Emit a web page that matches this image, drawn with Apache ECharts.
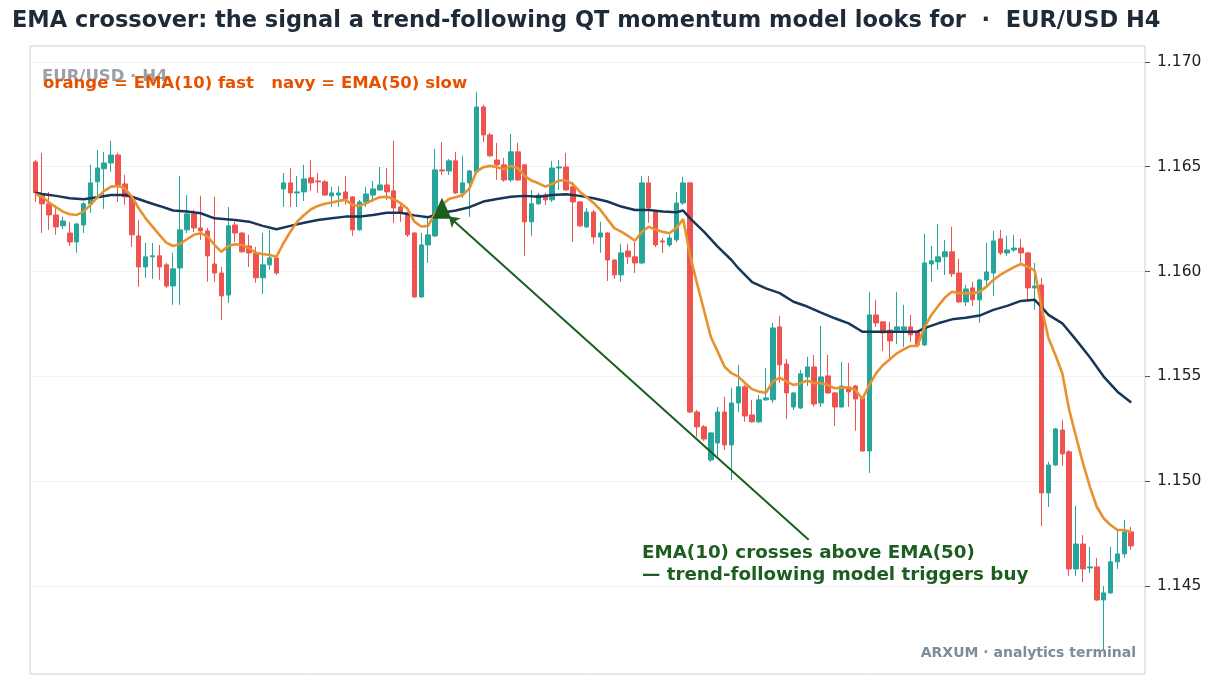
<!DOCTYPE html>
<html lang="en">
<head>
    <meta charset="UTF-8">
    <title>EMA crossover - EUR/USD H4</title>
    <script src="https://cdn.jsdelivr.net/npm/echarts@6/dist/echarts.min.js"></script>
    <style>
        html, body {margin: 0; padding: 0; background: #fff;}
        #chart {width: 1215px; height: 686px;}
    </style>
</head>
<body>
    <div id="chart"></div>
    <script type="text/javascript">
        // EUR/USD H4 candles (index 0..159)
        const opens = [
            1.16523, 1.16370, 1.16323, 1.16270, 1.16218, 1.16184, 1.16141, 1.16222, 1.16323, 1.16428,
            1.16490, 1.16518, 1.16556, 1.16418, 1.16356, 1.16170, 1.16022, 1.16070, 1.16075, 1.16032,
            1.15931, 1.16017, 1.16199, 1.16275, 1.16208, 1.16194, 1.16036, 1.15993, 1.15888, 1.16222,
            1.16184, 1.16122, 1.16089, 1.15970, 1.16032, 1.16065, 1.16394, 1.16423, 1.16375, 1.16380,
            1.16447, 1.16432, 1.16428, 1.16361, 1.16365, 1.16380, 1.16356, 1.16199, 1.16332, 1.16365,
            1.16389, 1.16413, 1.16385, 1.16308, 1.16280, 1.16184, 1.15879, 1.16127, 1.16170, 1.16485,
            1.16480, 1.16528, 1.16375, 1.16423, 1.16475, 1.16785, 1.16652, 1.16532, 1.16509, 1.16437,
            1.16571, 1.16509, 1.16237, 1.16323, 1.16365, 1.16342, 1.16494, 1.16499, 1.16404, 1.16332,
            1.16213, 1.16284, 1.16165, 1.16184, 1.16055, 1.15984, 1.16098, 1.16070, 1.16041, 1.16423,
            1.16284, 1.16146, 1.16127, 1.16151, 1.16327, 1.16423, 1.15330, 1.15259, 1.15101, 1.15182,
            1.15330, 1.15173, 1.15373, 1.15450, 1.15316, 1.15283, 1.15388, 1.15388, 1.15736, 1.15559,
            1.15354, 1.15349, 1.15497, 1.15545, 1.15373, 1.15502, 1.15421, 1.15354, 1.15450, 1.15454,
            1.15397, 1.15144, 1.15793, 1.15760, 1.15721, 1.15721, 1.15721, 1.15736, 1.15712, 1.15650,
            1.16036, 1.16046, 1.16070, 1.16094, 1.15993, 1.15855, 1.15922, 1.15865, 1.15960, 1.15993,
            1.16156, 1.16089, 1.16103, 1.16112, 1.16089, 1.15922, 1.15936, 1.14944, 1.15077, 1.15244,
            1.15140, 1.14581, 1.14700, 1.14586, 1.14591, 1.14433, 1.14467, 1.14615, 1.14653, 1.14758
        ];
        const closes = [
            1.16375, 1.16323, 1.16270, 1.16213, 1.16241, 1.16141, 1.16227, 1.16323, 1.16423, 1.16494,
            1.16518, 1.16556, 1.16413, 1.16356, 1.16175, 1.16022, 1.16070, 1.16075, 1.16022, 1.15931,
            1.16013, 1.16199, 1.16275, 1.16208, 1.16194, 1.16075, 1.15993, 1.15884, 1.16218, 1.16184,
            1.16094, 1.16089, 1.15970, 1.16032, 1.16065, 1.15993, 1.16423, 1.16375, 1.16380, 1.16442,
            1.16423, 1.16428, 1.16365, 1.16375, 1.16375, 1.16346, 1.16199, 1.16332, 1.16370, 1.16394,
            1.16413, 1.16380, 1.16303, 1.16280, 1.16175, 1.15879, 1.16127, 1.16175, 1.16485, 1.16480,
            1.16528, 1.16375, 1.16423, 1.16480, 1.16785, 1.16652, 1.16552, 1.16509, 1.16437, 1.16571,
            1.16437, 1.16237, 1.16323, 1.16365, 1.16342, 1.16494, 1.16499, 1.16389, 1.16332, 1.16218,
            1.16284, 1.16165, 1.16184, 1.16055, 1.15984, 1.16089, 1.16070, 1.16041, 1.16423, 1.16303,
            1.16127, 1.16141, 1.16160, 1.16327, 1.16423, 1.15330, 1.15259, 1.15201, 1.15230, 1.15330,
            1.15173, 1.15373, 1.15450, 1.15311, 1.15283, 1.15388, 1.15397, 1.15731, 1.15555, 1.15421,
            1.15421, 1.15512, 1.15545, 1.15368, 1.15497, 1.15421, 1.15354, 1.15454, 1.15426, 1.15392,
            1.15144, 1.15793, 1.15755, 1.15707, 1.15669, 1.15736, 1.15736, 1.15698, 1.15650, 1.16041,
            1.16051, 1.16070, 1.16094, 1.15989, 1.15855, 1.15917, 1.15865, 1.15960, 1.15998, 1.16146,
            1.16089, 1.16103, 1.16112, 1.16089, 1.15922, 1.15931, 1.14944, 1.15077, 1.15249, 1.15130,
            1.14581, 1.14700, 1.14581, 1.14591, 1.14433, 1.14467, 1.14615, 1.14653, 1.14758, 1.14691
        ];
        const lows = [
            1.16332, 1.16184, 1.16199, 1.16175, 1.16203, 1.16122, 1.16089, 1.16184, 1.16280, 1.16356,
            1.16299, 1.16475, 1.16332, 1.16318, 1.16117, 1.15927, 1.15970, 1.15965, 1.15960, 1.15922,
            1.15841, 1.15841, 1.16184, 1.16189, 1.16151, 1.15951, 1.15951, 1.15769, 1.15850, 1.16141,
            1.16090, 1.16022, 1.15946, 1.15893, 1.16008, 1.15984, 1.16308, 1.16308, 1.16308, 1.16337,
            1.16385, 1.16375, 1.16361, 1.16308, 1.16308, 1.16318, 1.16170, 1.16195, 1.16308, 1.16332,
            1.16385, 1.16342, 1.16232, 1.16237, 1.16165, 1.15875, 1.15874, 1.16041, 1.16165, 1.16461,
            1.16461, 1.16370, 1.16351, 1.16261, 1.16470, 1.16618, 1.16547, 1.16437, 1.16428, 1.16428,
            1.16432, 1.16075, 1.16170, 1.16318, 1.16318, 1.16332, 1.16389, 1.16385, 1.16141, 1.16213,
            1.16208, 1.16132, 1.16089, 1.15955, 1.15965, 1.15951, 1.16036, 1.15993, 1.16036, 1.16232,
            1.16117, 1.16089, 1.16117, 1.16141, 1.16318, 1.15325, 1.15211, 1.15192, 1.15092, 1.15116,
            1.15149, 1.15006, 1.15330, 1.15283, 1.15280, 1.15278, 1.15383, 1.15373, 1.15469, 1.15297,
            1.15340, 1.15345, 1.15454, 1.15354, 1.15354, 1.15416, 1.15264, 1.15350, 1.15354, 1.15240,
            1.15140, 1.15039, 1.15736, 1.15621, 1.15578, 1.15655, 1.15640, 1.15664, 1.15645, 1.15645,
            1.15951, 1.16008, 1.15984, 1.15974, 1.15850, 1.15836, 1.15836, 1.15755, 1.15931, 1.15884,
            1.16079, 1.16075, 1.16094, 1.16041, 1.15865, 1.15817, 1.14786, 1.14877, 1.15073, 1.15073,
            1.14548, 1.14548, 1.14519, 1.14562, 1.14429, 1.14195, 1.14462, 1.14581, 1.14634, 1.14672
        ];
        const highs = [
            1.16532, 1.16566, 1.16380, 1.16303, 1.16261, 1.16237, 1.16232, 1.16332, 1.16509, 1.16580,
            1.16571, 1.16623, 1.16566, 1.16461, 1.16365, 1.16246, 1.16137, 1.16137, 1.16127, 1.16041,
            1.16089, 1.16456, 1.16365, 1.16294, 1.16361, 1.16208, 1.16356, 1.16022, 1.16308, 1.16237,
            1.16188, 1.16175, 1.16117, 1.16184, 1.16199, 1.16070, 1.16470, 1.16494, 1.16456, 1.16509,
            1.16532, 1.16470, 1.16437, 1.16404, 1.16408, 1.16456, 1.16361, 1.16342, 1.16404, 1.16432,
            1.16499, 1.16494, 1.16623, 1.16327, 1.16284, 1.16188, 1.16184, 1.16261, 1.16585, 1.16618,
            1.16537, 1.16571, 1.16552, 1.16485, 1.16857, 1.16795, 1.16661, 1.16614, 1.16542, 1.16657,
            1.16614, 1.16513, 1.16389, 1.16375, 1.16375, 1.16528, 1.16532, 1.16566, 1.16428, 1.16337,
            1.16303, 1.16294, 1.16237, 1.16189, 1.16060, 1.16132, 1.16132, 1.16141, 1.16456, 1.16456,
            1.16289, 1.16160, 1.16175, 1.16380, 1.16451, 1.16428, 1.15340, 1.15268, 1.15235, 1.15354,
            1.15402, 1.15445, 1.15555, 1.15459, 1.15388, 1.15411, 1.15540, 1.15755, 1.15788, 1.15583,
            1.15425, 1.15531, 1.15593, 1.15602, 1.15741, 1.15602, 1.15425, 1.15569, 1.15564, 1.15459,
            1.15402, 1.15902, 1.15865, 1.15764, 1.15760, 1.15902, 1.15841, 1.15793, 1.15721, 1.16180,
            1.16122, 1.16227, 1.16151, 1.16213, 1.16060, 1.15936, 1.15951, 1.15965, 1.16137, 1.16194,
            1.16199, 1.16170, 1.16175, 1.16156, 1.16094, 1.16041, 1.15970, 1.15092, 1.15254, 1.15292,
            1.15149, 1.14882, 1.14743, 1.14686, 1.14634, 1.14500, 1.14686, 1.14763, 1.14815, 1.14782
        ];

        // EMA(10), one value per candle
        const emaFast = [
            1.16370, 1.16357, 1.16329, 1.16307, 1.16286, 1.16273, 1.16270, 1.16286, 1.16318, 1.16354,
            1.16385, 1.16405, 1.16408, 1.16397, 1.16357, 1.16302, 1.16254, 1.16214, 1.16175, 1.16138,
            1.16122, 1.16132, 1.16154, 1.16175, 1.16183, 1.16167, 1.16127, 1.16094, 1.16122, 1.16130,
            1.16127, 1.16111, 1.16090, 1.16084, 1.16079, 1.16071, 1.16135, 1.16190, 1.16238, 1.16270,
            1.16297, 1.16313, 1.16323, 1.16329, 1.16337, 1.16342, 1.16318, 1.16313, 1.16326, 1.16342,
            1.16354, 1.16357, 1.16346, 1.16326, 1.16299, 1.16238, 1.16215, 1.16218, 1.16278, 1.16318,
            1.16346, 1.16354, 1.16365, 1.16397, 1.16477, 1.16498, 1.16504, 1.16498, 1.16488, 1.16504,
            1.16493, 1.16456, 1.16434, 1.16421, 1.16405, 1.16418, 1.16434, 1.16434, 1.16417, 1.16381,
            1.16354, 1.16327, 1.16294, 1.16250, 1.16207, 1.16190, 1.16170, 1.16147, 1.16190, 1.16214,
            1.16199, 1.16190, 1.16183, 1.16207, 1.16250, 1.16077, 1.15944, 1.15817, 1.15689, 1.15618,
            1.15546, 1.15515, 1.15499, 1.15467, 1.15439, 1.15427, 1.15422, 1.15475, 1.15494, 1.15475,
            1.15459, 1.15467, 1.15480, 1.15467, 1.15467, 1.15459, 1.15443, 1.15446, 1.15448, 1.15435,
            1.15392, 1.15459, 1.15515, 1.15554, 1.15582, 1.15610, 1.15629, 1.15645, 1.15645, 1.15734,
            1.15793, 1.15836, 1.15877, 1.15904, 1.15897, 1.15897, 1.15897, 1.15904, 1.15928, 1.15960,
            1.15984, 1.16003, 1.16021, 1.16036, 1.16022, 1.16004, 1.15826, 1.15682, 1.15602, 1.15515,
            1.15340, 1.15212, 1.15086, 1.14974, 1.14878, 1.14823, 1.14791, 1.14767, 1.14767, 1.14756
        ];

        // EMA(50), read at these candle positions
        const emaSlowIdx = [
            0, 1, 3, 5, 7, 9, 11, 13, 14, 16, 18, 20, 22, 24, 26, 29, 31, 33, 35, 37,
            39, 41, 43, 45, 47, 49, 51, 53, 55, 57, 59, 61, 63, 65, 67, 69, 71, 73, 75, 77,
            79, 81, 83, 85, 87, 89, 91, 93, 94, 95, 97, 99, 101, 102, 104, 106, 108, 110, 112, 114,
            116, 118, 120, 121, 124, 128, 129, 131, 133, 135, 137, 139, 141, 143, 145, 146, 147, 149, 151, 153,
            155, 157, 159
        ];
        const emaSlowVal = [
            1.16376, 1.16370, 1.16361, 1.16350, 1.16345, 1.16354, 1.16365, 1.16365, 1.16357, 1.16334,
            1.16313, 1.16291, 1.16286, 1.16278, 1.16254, 1.16246, 1.16238, 1.16218, 1.16202, 1.16218,
            1.16233, 1.16246, 1.16254, 1.16262, 1.16262, 1.16270, 1.16281, 1.16280, 1.16268, 1.16259,
            1.16281, 1.16291, 1.16307, 1.16334, 1.16346, 1.16357, 1.16361, 1.16357, 1.16365, 1.16369,
            1.16361, 1.16350, 1.16334, 1.16310, 1.16294, 1.16294, 1.16286, 1.16283, 1.16291, 1.16254,
            1.16190, 1.16119, 1.16055, 1.16016, 1.15950, 1.15920, 1.15897, 1.15856, 1.15833, 1.15804,
            1.15777, 1.15753, 1.15713, 1.15713, 1.15713, 1.15713, 1.15730, 1.15753, 1.15772, 1.15780,
            1.15790, 1.15817, 1.15836, 1.15860, 1.15865, 1.15830, 1.15793, 1.15753, 1.15674, 1.15591,
            1.15499, 1.15427, 1.15375
        ];

        // crossover marker and arrow (candle index, price)
        const crossPoint = [59, 1.16302];
        const arrowFrom = [112.2, 1.14720];
        const arrowTo = [60.0, 1.16263];

        const yTicks = [1.145, 1.150, 1.155, 1.160, 1.165, 1.170];

        const titleText = 'EMA crossover: the signal a trend-following QT momentum model looks for  \u00b7  EUR/USD H4';
        const noteText = 'EMA(10) crosses above EMA(50)\n\u2014 trend-following model triggers buy';

        const font = '"DejaVu Sans", "Noto Sans", sans-serif';
        let myChart = echarts.init(document.getElementById('chart'));

        let candles = opens.map((o, i) => [i, o, closes[i], lows[i], highs[i]]);
        let fast = emaFast.map((v, i) => [i, v]);
        let slow = emaSlowIdx.map((x, i) => [x, emaSlowVal[i]]);

        let option = {
            animation: false,
            backgroundColor: '#ffffff',
            title: {
                text: titleText,
                left: 12,
                top: 10,
                padding: 0,
                textStyle: {fontFamily: font, fontWeight: 'bold', fontSize: 22.5, color: '#1e2a38'}
            },
            grid: {
                left: 30, top: 46, right: 70, bottom: 12,
                show: true, borderColor: '#d0d0d0', borderWidth: 1, backgroundColor: '#ffffff'
            },
            xAxis: {type: 'value', min: -0.77, max: 161, show: false},
            yAxis: {
                type: 'value',
                position: 'right',
                min: 1.1408,
                max: 1.17076,
                axisLine: {show: false, onZero: false},
                axisTick: {show: true, length: 5, lineStyle: {color: '#555'}, customValues: yTicks},
                axisLabel: {
                    customValues: yTicks,
                    margin: 12,
                    fontSize: 15.5,
                    fontFamily: font,
                    color: '#222',
                    formatter: v => v.toFixed(3)
                },
                splitLine: {show: true, lineStyle: {color: '#dcdcdc', width: 0.8, type: 'dotted'}}
            },
            series: [
                {
                    type: 'candlestick',
                    data: candles,
                    barWidth: 5,
                    itemStyle: {
                        color: '#26a69a', color0: '#ef5350',
                        borderColor: '#26a69a', borderColor0: '#ef5350',
                        borderWidth: 1
                    },
                    z: 2
                },
                {
                    type: 'line',
                    data: slow,
                    showSymbol: false,
                    lineStyle: {color: '#17365a', width: 2.5},
                    z: 3
                },
                {
                    type: 'line',
                    data: fast,
                    showSymbol: false,
                    lineStyle: {color: '#e8912f', width: 2.6},
                    z: 4
                },
                {
                    type: 'scatter',
                    data: [crossPoint],
                    symbol: 'triangle',
                    symbolSize: [19, 21],
                    itemStyle: {color: '#1b5e20', opacity: 1},
                    z: 6,
                    markLine: {
                        silent: true,
                        symbol: ['none', 'arrow'],
                        symbolSize: 10,
                        label: {show: false},
                        lineStyle: {color: '#1b5e20', width: 2, type: 'solid', opacity: 1},
                        data: [[{coord: arrowFrom}, {coord: arrowTo}]]
                    }
                }
            ],
            graphic: [
                {
                    type: 'text', z: 10,
                    style: {text: 'EUR/USD \u00b7 H4', x: 42, y: 77, fill: '#9aa0a8',
                        font: 'bold 16.5px ' + font, verticalAlign: 'middle'}
                },
                {
                    type: 'text', z: 11,
                    style: {text: 'orange = EMA(10) fast   navy = EMA(50) slow', x: 43, y: 84, fill: '#e65100',
                        font: 'bold 16.5px ' + font, verticalAlign: 'middle'}
                },
                {
                    type: 'text', z: 10,
                    style: {text: noteText, x: 642, y: 543, fill: '#1b5e20',
                        font: 'bold 18.3px ' + font, lineHeight: 21.5, verticalAlign: 'top'}
                },
                {
                    type: 'text', z: 10,
                    style: {text: 'ARXUM \u00b7 analytics terminal', x: 1136, y: 653, fill: '#7d8c99',
                        font: 'bold 14px ' + font, align: 'right', verticalAlign: 'middle'}
                }
            ]
        };
        myChart.setOption(option);
    </script>
</body>
</html>
